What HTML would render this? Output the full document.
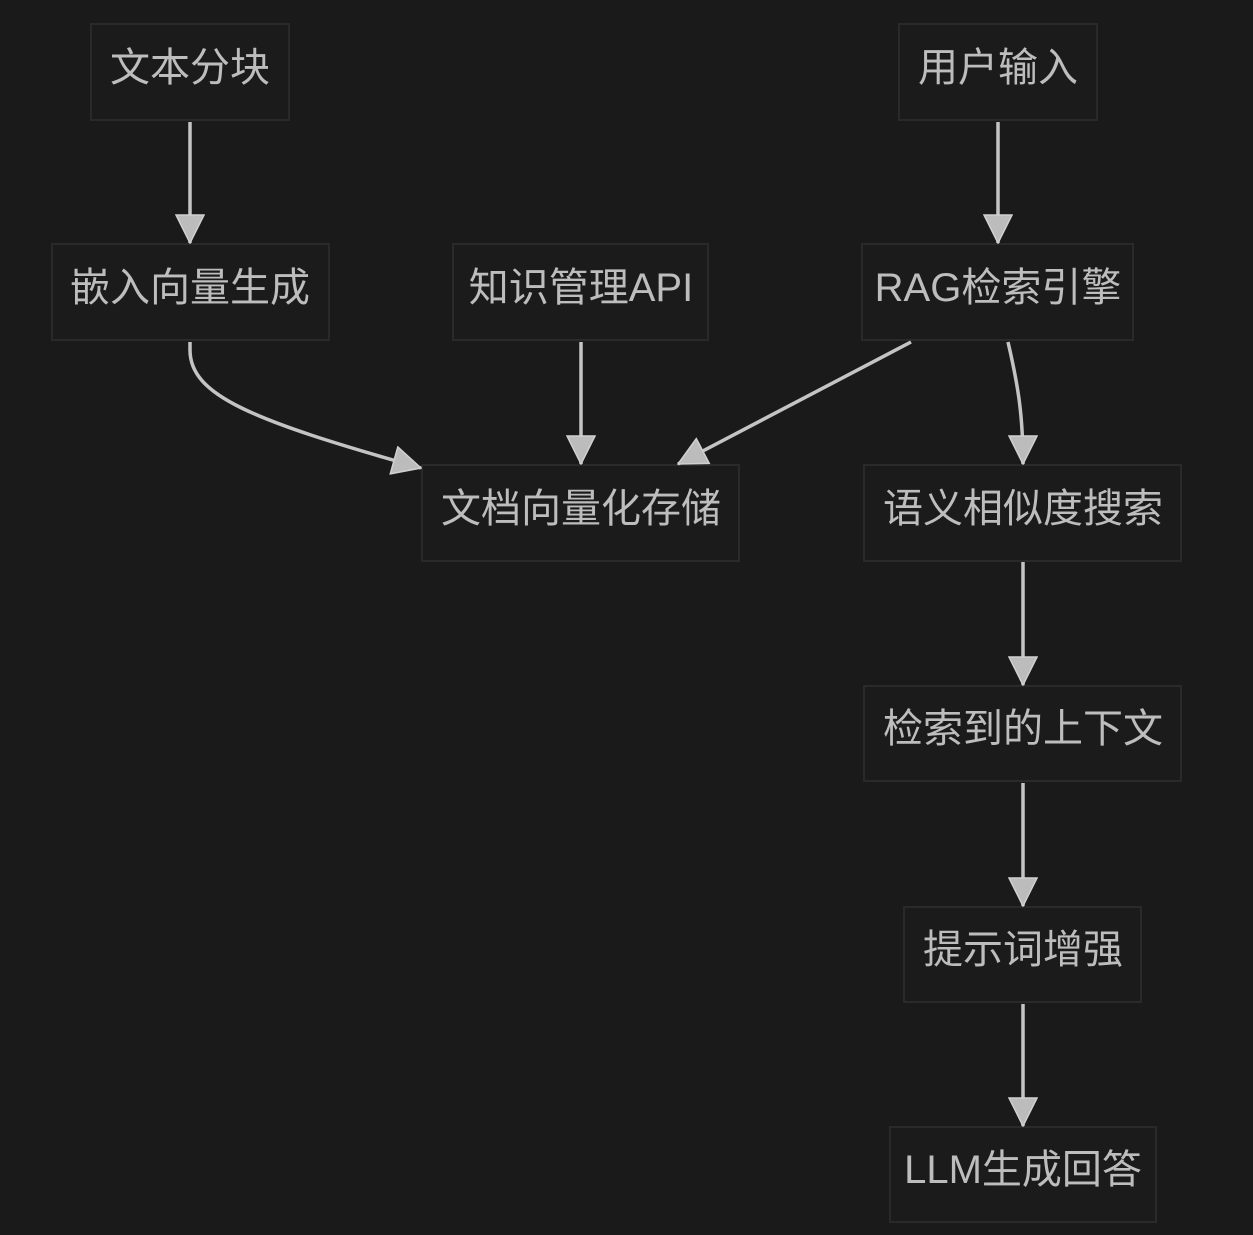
<!DOCTYPE html>
<html><head><meta charset="utf-8"><style>
html,body{margin:0;padding:0;background:#1a1a1a;}
svg{display:block}
text{font-family:"Liberation Sans","Noto Sans CJK SC",sans-serif;font-size:40px;fill:#bdbdbd;text-anchor:middle;}
</style></head><body>
<svg width="1253" height="1235" viewBox="0 0 1253 1235" xmlns="http://www.w3.org/2000/svg">
<defs>
<marker id="a" markerUnits="userSpaceOnUse" markerWidth="30" markerHeight="30" viewBox="0 0 30 30" refX="29" refY="15" orient="auto">
<path d="M1,1 L29,15 L1,29 Z" fill="#bcbcbc" stroke="#d0d0d0" stroke-width="1.5"/>
</marker>
</defs>
<g fill="#1b1b1b" stroke="#2a2a2a" stroke-width="2">
<rect x="91" y="24" width="198" height="96"/>
<rect x="899" y="24" width="198" height="96"/>
<rect x="52" y="244" width="277" height="96"/>
<rect x="453" y="244" width="255" height="96"/>
<rect x="862" y="244" width="271" height="96"/>
<rect x="422" y="465" width="317" height="96"/>
<rect x="864" y="465" width="317" height="96"/>
<rect x="864" y="686" width="317" height="95"/>
<rect x="904" y="907" width="237" height="95"/>
<rect x="890" y="1127" width="266" height="95"/>
</g>
<g fill="none" stroke="#c4c4c4" stroke-width="3.5" marker-end="url(#a)">
<path d="M190,122 L190,243"/>
<path d="M998,122 L998,243"/>
<path d="M190,342 L190,350 C190,395 250,420 421,468"/>
<path d="M581,342 L581,464"/>
<path d="M911,342 L678,464"/>
<path d="M1008,342 C1018,385 1023,415 1023,464"/>
<path d="M1023,562 L1023,685"/>
<path d="M1023,783 L1023,906"/>
<path d="M1023,1004 L1023,1126"/>
</g>
<text x="190" y="81">文本分块</text>
<text x="998" y="81">用户输入</text>
<text x="190" y="301">嵌入向量生成</text>
<text x="581" y="301">知识管理API</text>
<text x="998" y="301">RAG检索引擎</text>
<text x="581" y="522">文档向量化存储</text>
<text x="1023" y="522">语义相似度搜索</text>
<text x="1023" y="742">检索到的上下文</text>
<text x="1023" y="963">提示词增强</text>
<text x="1023" y="1183">LLM生成回答</text>
</svg>
</body></html>
